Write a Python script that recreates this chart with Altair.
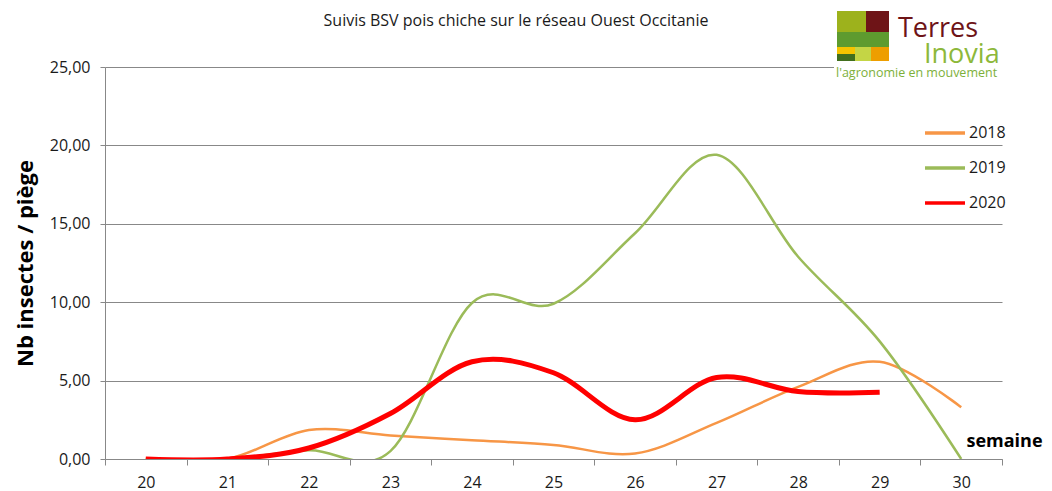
import altair as alt
import pandas as pd

# ---- data ----
weeks = [20, 21, 22, 23, 24, 25, 26, 27, 28, 29, 30]
years = ["2018", "2019", "2020"]
y2018 = [0, 0, 1.85, 1.5, 1.2, 0.9, 0.35, 2.3, 4.6, 6.2, 3.3]
y2019 = [0, 0, 0.55, 0.5, 9.95, 9.9, 14.4, 19.4, 12.9, 7.5, 0]
y2020 = [0, 0, 0.7, 2.9, 6.2, 5.5, 2.5, 5.2, 4.3, 4.25]
y_ticks = [0, 5, 10, 15, 20, 25]

title_text = "Suivis BSV pois chiche sur le réseau Ouest Occitanie"
x_title = "semaine"
y_title = "Nb insectes / piège"

rows = []
for yr, vals in zip(years, [y2018, y2019, y2020]):
    for w, v in zip(weeks, vals):
        rows.append({"semaine": w, "annee": yr, "valeur": v})
df = pd.DataFrame(rows)

# ---- styles ----
series_colors = ["#F79646", "#9BBB59", "#FF0000"]
grid_grey = "#888888"
text_col = "#1a1a1a"
FONT = "Open Sans"

lines = alt.Chart(df).mark_line(interpolate="cardinal", clip=True).encode(
    x=alt.X(
        "semaine:O",
        scale=alt.Scale(type="band", paddingInner=0, paddingOuter=0),
        bandPosition=0.5,
        axis=alt.Axis(
            title=x_title,
            titleX=899,
            titleY=-13,
            titleAlign="center",
            titleBaseline="alphabetic",
            titleFontSize=18,
            titleFontWeight="bold",
            titleColor="black",
            labelAngle=0,
            labelFontSize=16,
            labelColor=text_col,
            labelPadding=9,
            tickSize=6,
            tickColor=grid_grey,
            domainColor=grid_grey,
            tickBand="extent",
            grid=False,
        ),
    ),
    y=alt.Y(
        "valeur:Q",
        scale=alt.Scale(domain=[0, 25], nice=False),
        axis=alt.Axis(
            values=y_ticks,
            labelExpr="replace(format(datum.value, '.2f'), '.', ',')",
            labelFontSize=16,
            labelColor=text_col,
            labelPadding=10,
            tickSize=5,
            tickColor=grid_grey,
            domainColor=grid_grey,
            gridColor=grid_grey,
            title=y_title,
            titleFontSize=22,
            titleFontWeight="bold",
            titleColor="black",
            titleX=-80,
            titleBaseline="middle",
        ),
    ),
    color=alt.Color(
        "annee:N",
        scale=alt.Scale(domain=years, range=series_colors),
        legend=alt.Legend(
            title=None,
            orient="none",
            legendX=818,
            legendY=44,
            symbolType="stroke",
            symbolSize=1600,
            symbolStrokeWidth=3.5,
            labelFontSize=16,
            labelColor=text_col,
            labelOffset=2,
            padding=0,
            rowPadding=5,
        ),
    ),
    strokeWidth=alt.when(alt.datum.annee == "2020").then(alt.value(5)).otherwise(alt.value(2.5)),
)

one = alt.Data(values=[{}])

# chart title (drawn as text so it stays independent of the logo bounds)
title_layer = alt.Chart(one).mark_text(
    text=title_text, align="center", baseline="alphabetic", fontSize=16, color=text_col, font=FONT
).encode(x=alt.value(411), y=alt.value(-41))

# ---- Terres Inovia logo (decoration) ----
logo_tiles = [
    (729, 905, -5, 12, "white"),
    (732, 761, -56, -35, "#9DB21C"),
    (761, 784, -56, -35, "#6E1417"),
    (732, 784, -35, -20, "#5E9B2F"),
    (732, 750, -20, -13, "#F5C400"),
    (732, 750, -13, -6, "#416F1E"),
    (750, 766, -20, -6, "#C4D545"),
    (766, 784, -20, -6, "#EE9E00"),
]
logo_layers = []
for x1, x2, y1, y2, c in logo_tiles:
    logo_layers.append(
        alt.Chart(one).mark_rect(color=c).encode(
            x=alt.value(x1), x2=alt.value(x2), y=alt.value(y1), y2=alt.value(y2)
        )
    )
logo_texts = [
    ("Terres", 793, -30, 27, "#6E1417"),
    ("Inovia", 819, -4, 27, "#8DB83A"),
    ("l'agronomie en mouvement", 731, 10, 12.5, "#7DB03A"),
]
for t, x, y, s, c in logo_texts:
    logo_layers.append(
        alt.Chart(one).mark_text(
            text=t, align="left", baseline="alphabetic", fontSize=s, color=c, font=FONT
        ).encode(x=alt.value(x), y=alt.value(y))
    )

chart = alt.layer(lines, title_layer, *logo_layers).properties(
    width=897,
    height=392,
    autosize=alt.AutoSizeParams(type="none"),
    padding={"left": 97, "top": 59, "right": 42, "bottom": 32},
).configure(font=FONT).configure_view(strokeWidth=0)

chart.save("out.html", embed_options={"renderer": "svg", "actions": False})
